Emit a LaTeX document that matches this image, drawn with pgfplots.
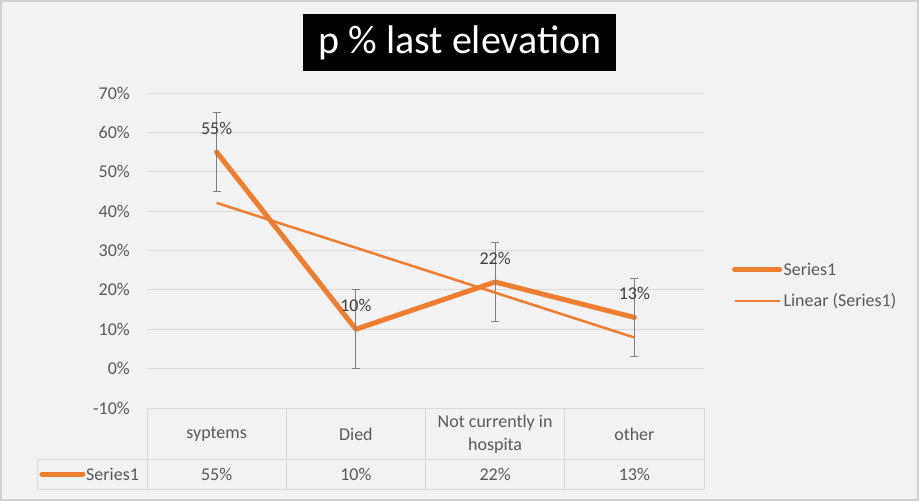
\documentclass[border=0pt]{standalone}
\usepackage{pgfplots}
\pgfplotsset{compat=1.18}
\usepackage{pgfplotstable}
\usepackage{fontspec}
\setmainfont{Carlito}
\definecolor{bg}{HTML}{F2F2F2}
\definecolor{framec}{HTML}{D0D0D0}
\definecolor{gridc}{HTML}{D9D9D9}
\definecolor{orng}{HTML}{ED7D31}
\definecolor{txt}{HTML}{595959}
\definecolor{lbl}{HTML}{404040}
\definecolor{errc}{HTML}{808080}
\newcommand{\fs}{\fontsize{18}{23}\selectfont}

\pgfplotstableread{
x y err
1 55 10
2 10 10
3 22 10
4 13 10
}\seriesdata

\pgfplotstableread{
x y
1 42.1
4 7.9
}\trenddata

\begin{document}
\begin{tikzpicture}
\begin{scope}[x=1pt,y=-1pt]
\fill[bg] (0,0) rectangle (919,501);
\draw[framec, line width=2pt] (1,1) rectangle (918,500);
\fill[black] (303,14) rectangle (616,71);
\node[white, font=\fontsize{40}{48}\selectfont, inner sep=0pt] at (460,43) {p \% last elevation};
% data table
\draw[gridc, line width=1pt]
  (147,408) -- (147,489)
  (37,459) -- (704,459)
  (37,489) -- (704,489)
  (37,459) -- (37,489)
  (704,408) -- (704,489)
  (286.25,408) -- (286.25,489)
  (425.5,408) -- (425.5,489)
  (564.75,408) -- (564.75,489);
\draw[orng, line width=5pt, line cap=round] (42,474) -- (83,474);
\node[anchor=west, text=txt, font=\fs, inner sep=0pt] at (86,474) {Series1};
\node[text=txt, font=\fs, inner sep=0pt] at (216.6,474) {55\%};
\node[text=txt, font=\fs, inner sep=0pt] at (355.9,474) {10\%};
\node[text=txt, font=\fs, inner sep=0pt] at (495.1,474) {22\%};
\node[text=txt, font=\fs, inner sep=0pt] at (634.4,474) {13\%};
\end{scope}
\begin{axis}[
  at={(147pt,-408pt)}, anchor=south west,
  scale only axis, width=557pt, height=315pt,
  xmin=0.5, xmax=4.5, ymin=-10, ymax=70,
  ytick={-10,0,10,20,30,40,50,60,70},
  yticklabels={-10\%,0\%,10\%,20\%,30\%,40\%,50\%,60\%,70\%},
  xtick={1,2,3,4},
  xticklabels={syptems, Died, {Not currently in\\hospita}, other},
  xticklabel style={anchor=center, yshift=-26pt, align=center, font=\fs, text=txt, inner sep=0pt},
  yticklabel style={anchor=east, xshift=-17pt, font=\fs, text=txt, inner sep=0pt},
  axis line style={draw=none},
  major tick length=0pt,
  ymajorgrids, grid style={gridc, line width=1pt},
  clip=false,
  legend style={at={(1.05,0.389)}, anchor=west, draw=none, fill=none, inner sep=0pt,
     font=\fs, text=txt, row sep=14pt, nodes={inner sep=1.5pt}},
  legend cell align=left,
  legend image code/.code={\draw[#1] (0pt,0pt) -- (45pt,0pt);},
]
\addplot[orng, line width=5pt, line join=round, line cap=round, mark=none,
  point meta=y,
  nodes near coords={\pgfmathprintnumber[assume math mode=true]{\pgfplotspointmeta}\%},
  every node near coord/.append style={font=\fs, text=lbl, anchor=base, yshift=18pt, inner sep=0pt},
  error bars/.cd, y dir=both, y explicit,
  error bar style={errc, line width=1pt, line cap=butt},
  error mark options={errc, line width=1pt, mark size=4pt, rotate=90}]
  table[x=x, y=y, y error=err]{\seriesdata};
\addlegendentry{Series1}
\addplot[orng, line width=2.5pt, mark=none] table[x=x, y=y]{\trenddata};
\addlegendentry{Linear (Series1)}
\end{axis}
\end{tikzpicture}
\end{document}
